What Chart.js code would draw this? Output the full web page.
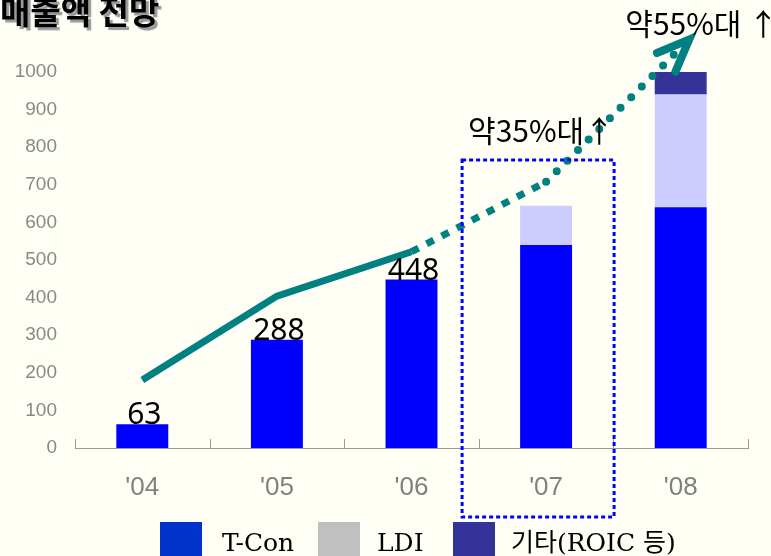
<!DOCTYPE html>
<html><head><meta charset="utf-8">
<script src="https://cdn.jsdelivr.net/npm/chart.js@4.4.1/dist/chart.umd.min.js"></script>
<style>html,body{margin:0;padding:0;background:#FFFFF6;} #c{display:block;}</style>
</head><body>
<canvas id="c" width="771" height="556"></canvas>
<script>
// ---- data ----
const categories = ["'04", "'05", "'06", "'07", "'08"];
const tconValues = [63, 288, 448, 540, 640];
const ldiValues = [null, null, null, 104, 300];
const otherValues = [null, null, null, null, 60];
const trendSolid = [181, 404, 522, null, null];
const trendDashed = [null, null, 522, 708, null];
const trendDotted = [null, null, null, 708, 1064];
const valueLabels = ['63', '288', '448', null, null];
const seriesNames = ['T-Con', 'LDI', '기타(ROIC 등)'];
const titleText = '매출액 전망';
const annotationTexts = ['약35%대↑', '약55%대 ↑'];
const annotationValues = [843, 1128];
const boxTopValue = 766;

const barColors = ['#0000FF', '#CCCCFF', '#333399'];
const legendColors = ['#0033CC', '#C0C0C0', '#333399'];
const teal = '#008080';

const overlayPlugin = {
  id: 'overlay',
  afterDatasetsDraw(chart) {
    const ctx = chart.ctx, x = chart.scales.x, y = chart.scales.y, ca = chart.chartArea;
    // boundary tick marks
    ctx.save();
    ctx.strokeStyle = '#999';
    ctx.lineWidth = 1;
    const w = (ca.right - ca.left) / categories.length;
    for (let i = 0; i <= categories.length; i++) {
      const px = Math.round(ca.left + i * w) + 0.5;
      ctx.beginPath(); ctx.moveTo(px, ca.bottom - 9); ctx.lineTo(px, ca.bottom); ctx.stroke();
    }
    ctx.restore();

    // arrow head at end of dotted trend
    const meta = chart.getDatasetMeta(5);
    const p0 = meta.data[3], p1 = meta.data[4];
    const dx = p1.x - p0.x, dy = p1.y - p0.y, len = Math.hypot(dx, dy);
    const ux = dx / len, uy = dy / len;
    const tipX = p1.x + ux * 12, tipY = p1.y + uy * 12;
    const ang = Math.atan2(-uy, -ux);
    const a = 22 * Math.PI / 180, L = 35;
    ctx.save();
    ctx.strokeStyle = teal; ctx.lineWidth = 8; ctx.lineCap = 'round'; ctx.lineJoin = 'miter';
    ctx.beginPath();
    ctx.moveTo(tipX + Math.cos(ang + a) * L, tipY + Math.sin(ang + a) * L);
    ctx.lineTo(tipX, tipY);
    ctx.lineTo(tipX + Math.cos(ang - a) * L, tipY + Math.sin(ang - a) * L);
    ctx.stroke();
    ctx.restore();

    // value labels on T-Con bars
    const bm = chart.getDatasetMeta(0);
    ctx.save();
    ctx.fillStyle = '#000';
    ctx.font = '30px "Noto Sans", sans-serif';
    ctx.textAlign = 'center';
    ctx.textBaseline = 'alphabetic';
    valueLabels.forEach((t, i) => {
      if (!t) return;
      const el = bm.data[i];
      ctx.fillText(t, el.x + 2, el.y);
    });
    ctx.restore();

    // dotted highlight box around '07
    const cx = x.getPixelForValue(3);
    ctx.save();
    ctx.strokeStyle = '#0000FF';
    ctx.lineWidth = 3;
    ctx.setLineDash([4, 3]);
    const top = y.getPixelForValue(boxTopValue);
    ctx.strokeRect(cx - 84, top, 152, ca.bottom + 69 - top);
    ctx.restore();

    // annotations
    ctx.save();
    ctx.fillStyle = '#000';
    ctx.font = '30px "Noto Sans CJK KR", sans-serif';
    ctx.textAlign = 'center';
    ctx.textBaseline = 'middle';
    ctx.fillText(annotationTexts[0], x.getPixelForValue(3) - 5, y.getPixelForValue(annotationValues[0]));
    ctx.fillText(annotationTexts[1], x.getPixelForValue(4) + 21, y.getPixelForValue(annotationValues[1]));
    ctx.restore();
  },
  afterDraw(chart) {
    const ctx = chart.ctx;
    // title
    ctx.save();
    ctx.font = 'bold 33px "Noto Sans CJK KR", sans-serif';
    ctx.fillStyle = '#000';
    ctx.textAlign = 'left';
    ctx.textBaseline = 'alphabetic';
    ctx.shadowColor = '#999';
    ctx.shadowOffsetX = 3; ctx.shadowOffsetY = 3; ctx.shadowBlur = 1;
    ctx.fillText(titleText, 0, 24);
    ctx.restore();

    // legend
    const items = [{sx: 160, tx: 222}, {sx: 318, tx: 377}, {sx: 453, tx: 511}];
    ctx.save();
    ctx.font = '25px "DejaVu Serif", "Noto Sans CJK KR", serif';
    ctx.textBaseline = 'alphabetic';
    ctx.textAlign = 'left';
    items.forEach((it, i) => {
      ctx.fillStyle = legendColors[i];
      ctx.fillRect(it.sx, 522, 42, 36);
      ctx.fillStyle = '#000';
      ctx.fillText(seriesNames[i], it.tx, 551);
    });
    ctx.restore();
  }
};

new Chart(document.getElementById('c'), {
  data: {
    labels: categories,
    datasets: [
      {type: 'bar', label: seriesNames[0], data: tconValues, backgroundColor: barColors[0], stack: 'bars', order: 3},
      {type: 'bar', label: seriesNames[1], data: ldiValues, backgroundColor: barColors[1], stack: 'bars', order: 3},
      {type: 'bar', label: seriesNames[2], data: otherValues, backgroundColor: barColors[2], stack: 'bars', order: 3},
      {type: 'line', data: trendSolid, borderColor: teal, borderWidth: 7, pointRadius: 0, stack: 'l1', order: 1, clip: false, borderCapStyle: 'butt', tension: 0},
      {type: 'line', data: trendDashed, borderColor: teal, borderWidth: 7, pointRadius: 0, stack: 'l2', order: 1, clip: false, borderDash: [8, 9], borderCapStyle: 'butt'},
      {type: 'line', data: trendDotted, borderColor: teal, borderWidth: 8, pointRadius: 0, stack: 'l3', order: 1, clip: false, borderDash: [0, 15], borderCapStyle: 'round'}
    ]
  },
  options: {
    responsive: false,
    animation: false,
    layout: {padding: {top: 72, right: 23, left: 0, bottom: 0}},
    plugins: {legend: {display: false}, tooltip: {enabled: false}},
    datasets: {bar: {barPercentage: 0.386, categoryPercentage: 1}},
    scales: {
      x: {
        stacked: true,
        grid: {display: false, drawTicks: false},
        border: {display: true, color: '#999', width: 1},
        ticks: {color: '#808080', font: {family: '"Liberation Sans", Arial, sans-serif', size: 26}, padding: 24},
        afterFit(s) { s.height = 108; }
      },
      y: {
        stacked: true,
        min: 0, max: 1000,
        grid: {display: false, drawTicks: false},
        border: {display: false},
        ticks: {stepSize: 100, color: '#888', font: {family: '"Liberation Sans", Arial, sans-serif', size: 19}, padding: 18,
          callback: (v) => String(v)},
        afterFit(s) { s.width = 75; }
      }
    }
  },
  plugins: [overlayPlugin]
});
</script>
</body></html>
